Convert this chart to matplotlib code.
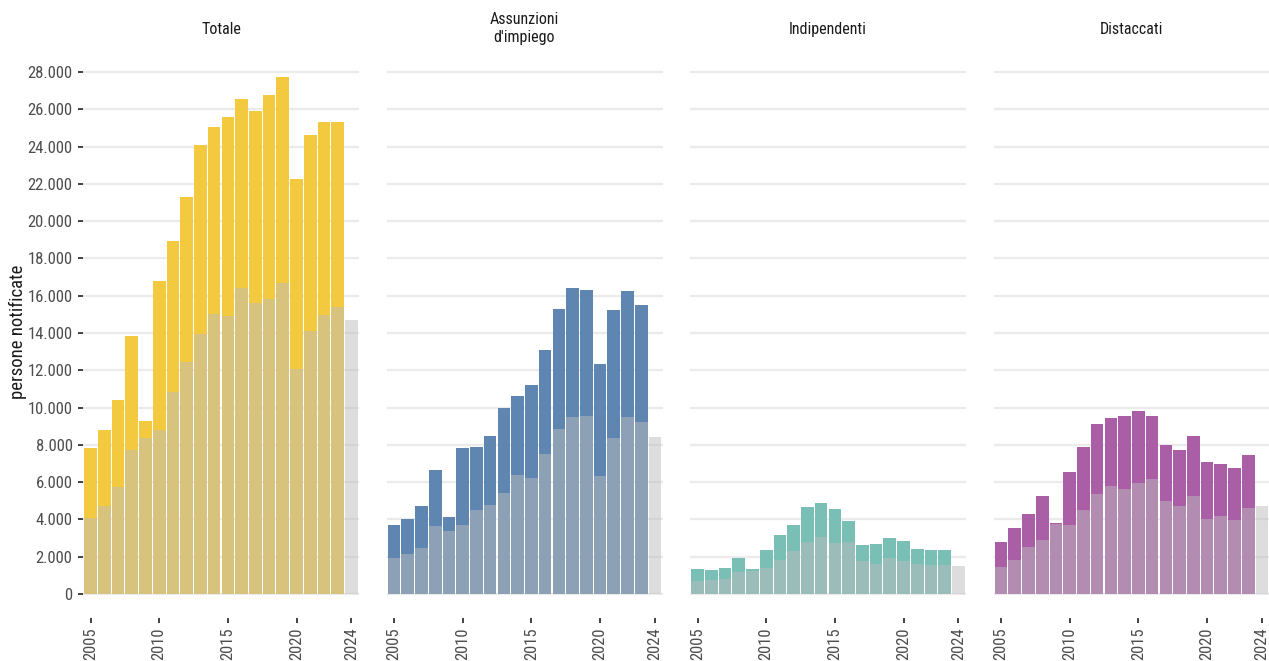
import matplotlib
matplotlib.use("Agg")
import matplotlib.pyplot as plt
from matplotlib import font_manager
from matplotlib.ticker import FuncFormatter

# ---------------- data ----------------
years_main = list(range(2005, 2024))
years_grey = list(range(2005, 2025))

panel_titles = ["Totale", "Assunzioni\nd'impiego", "Indipendenti", "Distaccati"]
panel_colors = ["#F2C93F", "#5E86B0", "#79BFB5", "#A95EA6"]

totale = [7830, 8800, 10400, 13840, 9280, 16790, 18930, 21290, 24080, 25050,
          25580, 26550, 25900, 26760, 27730, 22260, 24620, 25320, 25320]
totale_grey = [4090, 4740, 5740, 7740, 8390, 8810, 10850, 12460, 13960, 15030,
               14930, 16430, 15610, 15820, 16680, 12070, 14100, 14960, 15390, 14700]

assunzioni = [3700, 4020, 4720, 6650, 4130, 7830, 7880, 8470, 9970, 10620,
              11210, 13090, 15290, 16410, 16300, 12340, 15230, 16250, 15500]
assunzioni_grey = [1930, 2150, 2470, 3650, 3380, 3700, 4500, 4770, 5420, 6380,
                   6220, 7510, 8850, 9490, 9550, 6330, 8370, 9490, 9220, 8420]

indipendenti = [1340, 1290, 1390, 1930, 1340, 2360, 3160, 3700, 4670, 4880,
                4560, 3920, 2630, 2680, 3000, 2840, 2410, 2360, 2360]
indipendenti_grey = [700, 750, 800, 1180, 1230, 1390, 1820, 2310, 2790, 3060,
                     2740, 2790, 1770, 1610, 1930, 1770, 1610, 1560, 1560, 1500]

distaccati = [2790, 3540, 4290, 5260, 3810, 6540, 7880, 9120, 9440, 9550,
              9820, 9550, 7990, 7720, 8470, 7080, 6970, 6760, 7460]
distaccati_grey = [1450, 1820, 2520, 2900, 3750, 3700, 4500, 5360, 5790, 5630,
                   5950, 6170, 4990, 4720, 5260, 4020, 4180, 3970, 4610, 4720]

x_ticks = [2005, 2010, 2015, 2020, 2024]
y_ticks = list(range(0, 28001, 2000))
y_label = "persone notificate"

main_series = [totale, assunzioni, indipendenti, distaccati]
grey_series = [totale_grey, assunzioni_grey, indipendenti_grey, distaccati_grey]

# ---------------- fonts ----------------
avail = {f.name for f in font_manager.fontManager.ttflist}
font_kw = {}
for cand in ["Roboto Condensed", "Liberation Sans Narrow", "Open Sans Condensed"]:
    if cand in avail:
        font_kw = {"family": cand}
        break
if not font_kw:
    font_kw = {"family": "DejaVu Sans", "stretch": "condensed"}

plt.rcParams["font.family"] = font_kw["family"]
if "stretch" in font_kw:
    plt.rcParams["font.stretch"] = font_kw["stretch"]

W, H = 1269, 661
fig = plt.figure(figsize=(W / 100, H / 100), dpi=100)
fig.patch.set_facecolor("white")

def fmt(v, pos):
    return f"{int(v):,}".replace(",", ".")

left0 = 83
step = 303.5
width_px = 276
y0_pix, y1_pix = 599.6, 64.5
ymin, ymax = -300, 28400

for i in range(4):
    l = (left0 + step * i) / W
    ax = fig.add_axes([l, (H - y0_pix) / H, width_px / W, (y0_pix - y1_pix) / H])
    ax.set_facecolor("white")
    ax.set_xlim(2004.45, 2024.55)
    ax.set_ylim(ymin, ymax)
    ax.set_axisbelow(True)
    ax.set_yticks(y_ticks)
    ax.grid(axis="y", color="#EBEBEB", linewidth=1.6)
    ax.grid(axis="x", visible=False)
    for s in ax.spines.values():
        s.set_visible(False)
    ax.spines["bottom"].set_position(("outward", 13.5))

    ax.bar(years_main, main_series[i], width=0.92, color=panel_colors[i],
           linewidth=0, zorder=2)
    ax.bar(years_grey, grey_series[i], width=0.92, color="#BDBDBD", alpha=0.5,
           linewidth=0, zorder=3)

    ax.set_xticks(x_ticks)
    ax.set_xticklabels([str(t) for t in x_ticks], rotation=90)
    ax.tick_params(axis="x", length=3.5, width=1.3, color="#333333",
                   labelcolor="#4D4D4D", labelsize=12, pad=3)
    if i == 0:
        ax.yaxis.set_major_formatter(FuncFormatter(fmt))
        ax.tick_params(axis="y", length=3.5, width=1.3, color="#333333",
                       labelcolor="#4D4D4D", labelsize=12, pad=4)
        ax.set_ylabel(y_label, fontsize=13.5, color="#1A1A1A")
        ax.yaxis.set_label_coords(-0.203, 0.5)
    else:
        ax.tick_params(axis="y", length=0, labelleft=False)

    ax.set_title(panel_titles[i], fontsize=11.5, color="#1A1A1A",
                 pad=22 if i != 1 else 16, linespacing=1.25)

fig.savefig("out.png", dpi=100, facecolor="white")
